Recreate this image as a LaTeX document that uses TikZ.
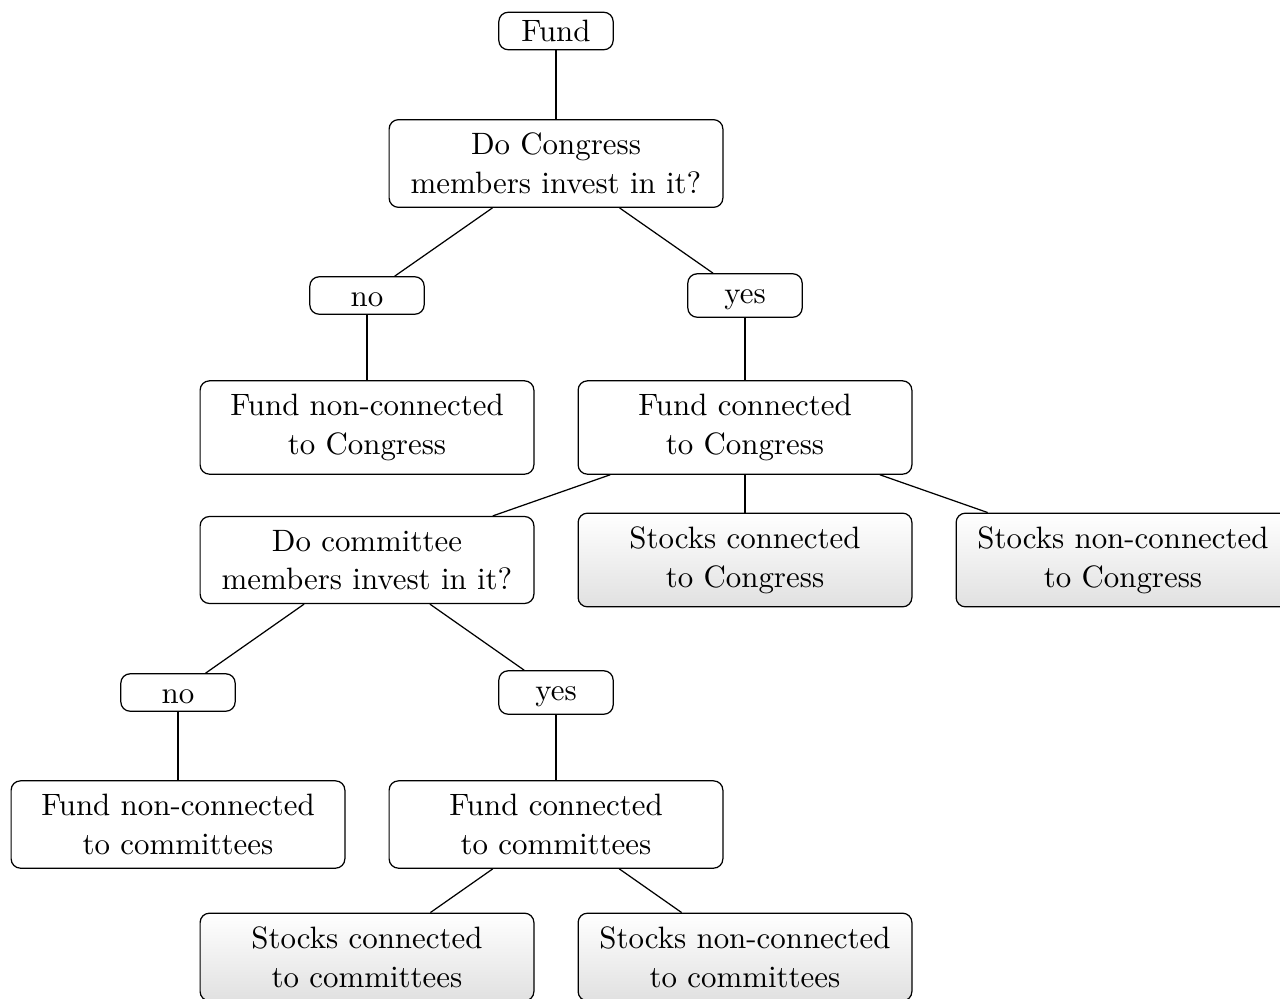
\documentclass[tikz,border=0pt]{standalone}
\usetikzlibrary{shadings}

\tikzset{every picture/.style={line width=0.4pt}}
\tikzset{
  smallbox/.style={draw, rounded corners=3pt, minimum width=37pt, text height=7pt, inner ysep=2.5pt},
  bigbox/.style={draw, rounded corners=3pt, minimum width=108pt, align=center, inner ysep=4.35pt,
    font=\fontsize{10}{12.5}\selectfont},
  leafbox/.style={bigbox, top color=white, bottom color=black!12},
}

\begin{document}
\begin{tikzpicture}[x=0.3236pt,y=0.3236pt,yscale=-1,xscale=1]
    \useasboundingbox (0,0) rectangle (1280,998);

    % Text Node
    \node [smallbox] (fund) at (556,31) {Fund};
    % Text Node
    \node [bigbox] (askcongress) at (556,163.5) {Do Congress\\members invest in it?};
    % Text Node
    \node [smallbox] (nocongress) at (367,295.5) {no};
    % Text Node
    \node [smallbox] (yescongress) at (745,295.5) {yes};
    % Text Node
    \node [bigbox] (fundnoncongress) at (367,427.5) {Fund non-connected\\to Congress};
    % Text Node
    \node [bigbox] (fundcongress) at (745,427.5) {Fund connected\\to Congress};
    % Text Node
    \node [bigbox] (askcommittee) at (367,560) {Do committee\\members invest in it?};
    % Text Node
    \node [leafbox] (stockscongress) at (745,560) {Stocks connected\\to Congress};
    % Text Node
    \node [leafbox] (stocksnoncongress) at (1123,560) {Stocks non-connected\\to Congress};
    % Text Node
    \node [smallbox] (nocommittee) at (178,692.5) {no};
    % Text Node
    \node [smallbox] (yescommittee) at (556,692.5) {yes};
    % Text Node
    \node [bigbox] (fundnoncommittee) at (178,824.5) {Fund non-connected\\to committees};
    % Text Node
    \node [bigbox] (fundcommittee) at (556,824.5) {Fund connected\\to committees};
    % Text Node
    \node [leafbox] (stockscommittee) at (367,957) {Stocks connected\\to committees};
    % Text Node
    \node [leafbox] (stocksnoncommittee) at (745,957) {Stocks non-connected\\to committees};

    %Straight Lines
    \draw (fund) -- (askcongress);
    \draw (askcongress) -- (nocongress);
    \draw (askcongress) -- (yescongress);
    \draw (nocongress) -- (fundnoncongress);
    \draw (yescongress) -- (fundcongress);
    \draw (fundcongress) -- (askcommittee);
    \draw (fundcongress) -- (stockscongress);
    \draw (fundcongress) -- (stocksnoncongress);
    \draw (askcommittee) -- (nocommittee);
    \draw (askcommittee) -- (yescommittee);
    \draw (nocommittee) -- (fundnoncommittee);
    \draw (yescommittee) -- (fundcommittee);
    \draw (fundcommittee) -- (stockscommittee);
    \draw (fundcommittee) -- (stocksnoncommittee);

  \end{tikzpicture}
\end{document}
